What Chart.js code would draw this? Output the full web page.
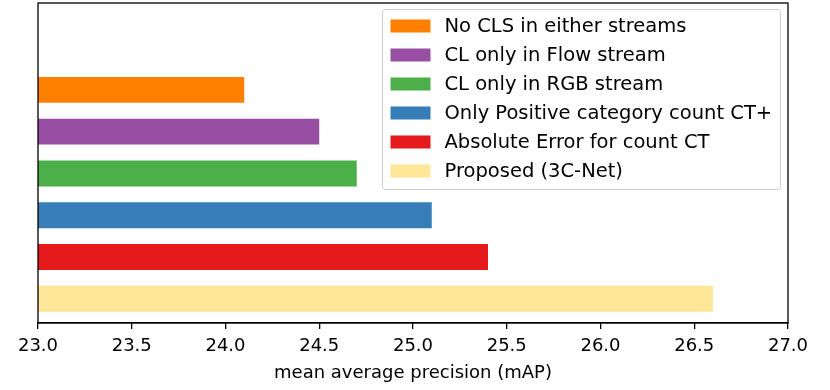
<!DOCTYPE html>
<html>
<head>
<meta charset="utf-8">
<script src="https://cdn.jsdelivr.net/npm/chart.js@4"></script>
<style>
  html, body { margin: 0; padding: 0; background: #fff; }
</style>
</head>
<body>
<canvas id="chart-bar" width="830" height="390"></canvas>
<script>
// ablation results (top to bottom)
const methods = [
  "No CLS in either streams",
  "CL only in Flow stream",
  "CL only in RGB stream",
  "Only Positive category count CT+",
  "Absolute Error for count CT",
  "Proposed (3C-Net)",
];
const mapValues = [24.1, 24.5, 24.7, 25.1, 25.4, 26.6];
const barPositions = [5, 4, 3, 2, 1, 0];
const barColors = ["#ff7f00", "#984ea3", "#4daf4a", "#377eb8", "#e41a1c", "#ffe699"];
const xMin = 23.0, xMax = 27.0, xStep = 0.5;

var FONT = "'DejaVu Sans', sans-serif";

// frame around plot + legend box in upper right
var framePlugin = {
  id: "frame",
  afterDatasetsDraw: function (chart) {
    var ctx = chart.ctx;
    var a = chart.chartArea;
    ctx.save();
    ctx.strokeStyle = "#000";
    ctx.lineWidth = 1.3;
    ctx.strokeRect(a.left, a.top, a.right - a.left, a.bottom - a.top);

    // legend
    var boxW = 398, boxH = 180;
    var bx = a.right - 7.5 - boxW, by = a.top + 6.5;
    ctx.beginPath();
    ctx.roundRect(bx, by, boxW, boxH, 3);
    ctx.fillStyle = "rgba(255,255,255,0.8)";
    ctx.fill();
    ctx.strokeStyle = "#cccccc";
    ctx.lineWidth = 1;
    ctx.stroke();

    ctx.font = "19.5px " + FONT;
    ctx.textBaseline = "middle";
    for (let i = 0; i < methods.length; i++) {
      var cy = by + 16 + i * 29;
      ctx.fillStyle = barColors[i];
      ctx.fillRect(bx + 8, cy - 6, 40, 13);
      ctx.fillStyle = "#000";
      ctx.fillText(methods[i], bx + 62, cy + 1);
    }
    ctx.restore();
  },
};

var data = [];
for (let i = 0; i < methods.length; i++) {
  data.push({ x: mapValues[i], y: barPositions[i] });
}

var ctx = document.getElementById("chart-bar").getContext("2d");
new Chart(ctx, {
  type: "bar",
  data: {
    datasets: [
      {
        label: "mAP",
        data: data,
        backgroundColor: barColors,
        borderWidth: 0,
        categoryPercentage: 1.0,
        barPercentage: 0.62,
      },
    ],
  },
  options: {
    indexAxis: "y",
    responsive: false,
    animation: false,
    devicePixelRatio: 1,
    layout: {
      padding: { left: 38, top: 3, right: 42, bottom: 0 },
    },
    plugins: {
      legend: { display: false },
      tooltip: { enabled: false },
    },
    scales: {
      y: {
        type: "linear",
        display: false,
        offset: false,
        min: -0.58,
        max: 7.08,
        // one tick per bar so bar width follows the bar spacing
        afterBuildTicks: function (scale) {
          scale.ticks = barPositions.map(function (v) {
            return { value: v };
          });
        },
      },
      x: {
        type: "linear",
        min: xMin,
        max: xMax,
        afterFit: function (scale) {
          scale.height = 67;
        },
        border: { display: true, color: "#000", width: 1.3 },
        grid: {
          display: true,
          drawOnChartArea: false,
          drawTicks: true,
          tickLength: 6,
          color: "#000",
          lineWidth: 1.3,
        },
        ticks: {
          stepSize: xStep,
          color: "#000",
          padding: 7,
          maxRotation: 0,
          font: { size: 18, family: FONT },
          callback: function (v) {
            return Number(v).toFixed(1);
          },
        },
        title: {
          display: true,
          text: "mean average precision (mAP)",
          color: "#000",
          padding: { top: 4, bottom: 6 },
          font: { size: 18, family: FONT },
        },
      },
    },
  },
  plugins: [framePlugin],
});
</script>
</body>
</html>
